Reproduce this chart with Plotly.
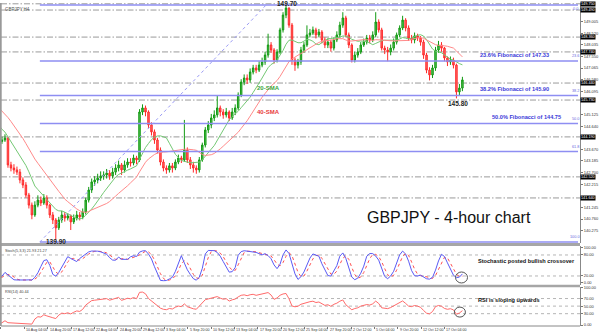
import numpy as np
import pandas as pd
import plotly.graph_objects as go

# ---------------- data (each bar ~ two 4h bars) ----------------
prior_open = 146.55
prior_closes = [146.50, 146.38, 146.30, 146.18, 146.28, 146.10, 146.02, 145.92, 145.95, 145.80,
                145.50, 145.30, 145.05, 144.92, 144.62, 144.50, 144.30, 144.22, 144.10, 144.00]
prior_highs = [146.65, 146.60, 146.45, 146.35, 146.40, 146.35, 146.20, 146.10, 146.10, 146.00,
               145.85, 145.60, 145.40, 145.15, 145.00, 144.70, 144.60, 144.40, 144.30, 144.15]
prior_lows = [146.30, 146.25, 146.15, 146.05, 146.10, 145.95, 145.85, 145.75, 145.80, 145.65,
              145.40, 145.15, 144.90, 144.75, 144.50, 144.35, 144.15, 144.05, 143.95, 143.85]

closes = [144.06, 144.14, 143.02, 142.89, 142.81, 142.72, 142.39, 142.18, 141.76, 141.34,
          140.93, 141.34, 141.55, 141.43, 141.64, 141.34, 140.93, 140.72, 140.39, 140.72,
          140.93, 140.80, 140.89, 140.64, 140.80, 140.93, 140.85, 141.05, 141.55, 141.97,
          142.31, 142.39, 142.47, 142.56, 142.60, 142.68, 142.56, 142.72, 142.89, 143.02,
          142.81, 143.02, 143.14, 143.10, 143.31, 143.23, 145.23, 145.40, 145.23, 144.69,
          144.40, 144.06, 143.64, 143.14, 142.89, 142.81, 142.98, 142.89, 143.14, 143.31,
          143.23, 143.64, 143.23, 143.02, 142.89, 142.81, 143.23, 143.85, 144.48, 144.69,
          144.98, 145.11, 145.40, 145.23, 145.11, 145.23, 144.98, 145.23, 145.40, 145.94,
          146.48, 146.65, 146.57, 146.90, 147.07, 146.98, 147.19, 147.32, 147.61, 148.03,
          147.82, 147.40, 147.74, 148.66, 149.28, 149.57, 148.86, 147.40, 147.19, 147.32,
          147.82, 148.03, 148.45, 148.53, 148.66, 148.45, 148.57, 148.24, 148.03, 148.15,
          147.90, 148.24, 148.45, 148.86, 149.16, 148.45, 148.03, 147.40, 147.61, 147.74,
          148.03, 148.15, 148.32, 148.24, 148.45, 148.99, 148.66, 147.90, 147.82, 147.74,
          147.90, 148.15, 148.45, 148.74, 149.07, 148.74, 148.32, 148.24, 148.41, 148.32,
          148.15, 147.61, 146.98, 146.78, 147.07, 147.82, 148.03, 147.90, 147.49, 147.32,
          147.40, 147.19, 146.07, 146.23, 146.57]
highs = [144.20, 144.30, 144.20, 143.15, 143.05, 142.95, 142.85, 142.50, 142.30, 141.85,
         141.45, 141.50, 141.75, 141.70, 141.80, 141.75, 141.40, 141.05, 140.80, 140.85,
         141.10, 141.05, 141.00, 140.95, 140.95, 141.10, 141.05, 141.20, 141.65, 142.10,
         142.45, 142.55, 142.65, 142.75, 142.75, 142.85, 142.80, 142.90, 143.05, 143.20,
         143.10, 143.20, 143.30, 143.30, 143.45, 143.40, 145.35, 145.55, 145.50, 145.30,
         144.80, 144.50, 144.15, 143.75, 143.25, 143.00, 143.10, 143.10, 143.25, 143.45,
         143.40, 144.90, 143.75, 143.35, 143.15, 143.00, 143.35, 143.95, 144.60, 144.85,
         145.15, 145.30, 145.90, 145.50, 145.35, 145.40, 145.30, 145.40, 145.55, 146.05,
         146.60, 146.80, 146.80, 147.05, 147.20, 147.20, 147.35, 147.50, 147.75, 148.50,
         148.15, 147.90, 147.85, 148.75, 149.40, 149.70, 149.60, 148.95, 147.50, 147.45,
         147.95, 148.15, 148.85, 148.70, 148.80, 148.75, 148.70, 148.65, 148.35, 148.30,
         148.25, 148.35, 148.60, 149.00, 149.40, 149.25, 148.55, 148.10, 147.75, 147.90,
         148.15, 148.30, 148.45, 148.45, 148.60, 149.40, 149.10, 148.75, 148.00, 147.95,
         148.05, 148.30, 148.55, 148.85, 149.25, 149.15, 148.85, 148.45, 148.55, 148.50,
         148.40, 148.25, 147.70, 147.10, 147.20, 147.95, 148.20, 148.15, 147.95, 147.55,
         147.55, 147.50, 147.25, 146.40, 146.70]
lows = [143.90, 143.98, 142.90, 142.75, 142.65, 142.60, 142.25, 142.05, 141.65, 141.20,
        140.75, 140.85, 141.25, 141.30, 141.35, 141.20, 140.80, 140.55, 139.88, 140.30,
        140.60, 140.65, 140.70, 140.30, 140.55, 140.70, 140.70, 140.75, 140.95, 141.45,
        141.85, 142.15, 142.25, 142.35, 142.40, 142.45, 142.40, 142.45, 142.60, 142.75,
        142.60, 142.70, 142.90, 142.95, 143.00, 143.05, 143.15, 145.10, 145.05, 144.55,
        144.25, 143.90, 143.50, 143.00, 142.75, 142.65, 142.70, 142.70, 142.80, 143.05,
        143.10, 143.15, 143.10, 142.85, 142.70, 142.65, 142.70, 143.15, 143.75, 144.35,
        144.55, 144.85, 145.00, 145.05, 144.95, 145.00, 144.85, 144.90, 145.10, 145.30,
        145.85, 146.35, 146.40, 146.45, 146.80, 146.85, 146.90, 147.10, 147.20, 147.50,
        147.70, 147.25, 147.30, 147.65, 148.55, 149.15, 148.75, 147.20, 146.95, 147.05,
        147.20, 147.70, 147.95, 148.35, 148.45, 148.30, 148.35, 148.10, 147.90, 147.90,
        147.75, 147.80, 148.15, 148.35, 148.75, 148.35, 147.90, 147.30, 147.30, 147.50,
        147.65, 147.95, 148.05, 148.10, 148.15, 148.35, 148.55, 147.80, 147.65, 147.35,
        147.60, 147.80, 148.05, 148.35, 148.65, 148.60, 148.20, 148.10, 148.10, 148.20,
        148.00, 147.45, 146.85, 146.55, 146.65, 146.95, 147.70, 147.75, 147.35, 147.15,
        147.20, 147.05, 145.80, 145.90, 146.10]

sr_levels = [149.75, 149.49, 148.36, 147.74, 146.44, 145.73, 144.19, 142.52, 141.64]
fib_high = 149.70
fib_low = 139.80
fib_pcts = [0.0, 23.6, 38.2, 50.0, 61.8, 100.0]
fib_texts = ["23.6% Fibonacci of 147.33", "38.2% Fibonacci of 145.90", "50.0% Fibonacci of 144.75"]
fib_text_pcts = [23.6, 38.2, 50.0]
price_ticks = [149.005, 148.520, 148.035, 147.550, 147.065, 146.580, 146.095, 145.125,
               144.640, 143.670, 143.185, 142.700, 142.215, 141.245, 140.760, 140.275]
date_labels = ["7 Aug 2018", "10 Aug 04:00", "14 Aug 20:00", "17 Aug 12:00", "22 Aug 04:00",
               "24 Aug 20:00", "29 Aug 12:00", "3 Sep 04:00", "5 Sep 20:00", "10 Sep 12:00",
               "13 Sep 04:00", "17 Sep 20:00", "20 Sep 12:00", "25 Sep 04:00", "27 Sep 20:00",
               "2 Oct 12:00", "5 Oct 04:00", "9 Oct 20:00", "12 Oct 12:00", "17 Oct 04:00"]

# ---------------- derived series ----------------
all_c = prior_closes + closes
all_h = prior_highs + highs
all_l = prior_lows + lows
all_o = [prior_open] + all_c[:-1]
n_prior = len(prior_closes)
xs = list(range(-n_prior, len(closes)))

c = pd.Series(all_c)
h = pd.Series(all_h)
l = pd.Series(all_l)
sma20 = c.rolling(10).mean()   # 20 x 4h bars
sma40 = c.rolling(20).mean()   # 40 x 4h bars

ll = l.rolling(5).min()
hh = h.rolling(5).max()
num = (c - ll).rolling(3).sum()
den = (hh - ll).rolling(3).sum()
stoch_k = 100 * num / den
stoch_d = stoch_k.rolling(3).mean()

delta = c.diff()
up = delta.clip(lower=0).ewm(alpha=1 / 11, adjust=False).mean()
dn = (-delta.clip(upper=0)).ewm(alpha=1 / 11, adjust=False).mean()
rsi = 100 - 100 / (1 + up / dn)

FONT = "Liberation Sans, Arial, sans-serif"
XR = [-0.33, 193.33]

fig = go.Figure()
fig.add_trace(go.Candlestick(
    x=xs, open=all_o, high=all_h, low=all_l, close=all_c,
    increasing=dict(line=dict(color="#129a12", width=1), fillcolor="#5cc25c"),
    decreasing=dict(line=dict(color="#ff2a2a", width=1), fillcolor="#ff7070"),
    whiskerwidth=0, showlegend=False, xaxis="x", yaxis="y"))
fig.add_trace(go.Scatter(x=xs, y=sma20, mode="lines", line=dict(color="#74c874", width=1),
                         showlegend=False, xaxis="x", yaxis="y", hoverinfo="skip"))
fig.add_trace(go.Scatter(x=xs, y=sma40, mode="lines", line=dict(color="#ff8a8a", width=1),
                         showlegend=False, xaxis="x", yaxis="y", hoverinfo="skip"))
fig.add_trace(go.Scatter(x=xs, y=stoch_d, mode="lines", line=dict(color="#ff5050", width=1, dash="dot"),
                         showlegend=False, xaxis="x2", yaxis="y2"))
fig.add_trace(go.Scatter(x=xs, y=stoch_k, mode="lines", line=dict(color="#5a5af5", width=1),
                         showlegend=False, xaxis="x2", yaxis="y2"))
fig.add_trace(go.Scatter(x=xs, y=rsi, mode="lines", line=dict(color="#ff6a6a", width=1),
                         showlegend=False, xaxis="x3", yaxis="y3"))

# domains (paper): plot area y from 3px to 326px
main_dom = [0.257, 1.0]
stoch_dom = [0.127, 0.2477]
rsi_dom = [0.0, 0.1207]

tickfont = dict(size=4, color="#333333", family=FONT)
axis_common = dict(showgrid=False, zeroline=False, fixedrange=True)
fig.update_layout(
    width=600, height=335, margin=dict(l=1, r=18, t=3, b=9),
    paper_bgcolor="white", plot_bgcolor="white", font=dict(family=FONT),
    xaxis=dict(domain=[0, 1], range=XR, anchor="y", showticklabels=False, rangeslider=dict(visible=False), **axis_common),
    xaxis2=dict(domain=[0, 1], range=XR, anchor="y2", matches="x", showticklabels=False, **axis_common),
    xaxis3=dict(domain=[0, 1], range=XR, anchor="y3", matches="x", showticklabels=False,
                ticks="outside", ticklen=2, tickcolor="#777",
                tickvals=[(1 + 23.42 * k - 2) / 3 for k in range(len(date_labels))], **axis_common),
    yaxis=dict(domain=main_dom, range=[139.758, 149.784], side="right", tickvals=price_ticks,
               ticktext=[f"{v:.3f}" for v in price_ticks], tickfont=tickfont, ticks="outside", ticklen=2,
               tickcolor="#777", showline=True, linecolor="#888", linewidth=1, **axis_common),
    yaxis2=dict(domain=stoch_dom, range=[-5.7, 105.7], side="right", tickvals=[0, 20, 80, 100],
                ticktext=["0.00", "20.00", "80.00", "100.00"], tickfont=tickfont, ticks="outside", ticklen=2,
                tickcolor="#777", showline=True, linecolor="#888", linewidth=1, anchor="x2", **axis_common),
    yaxis3=dict(domain=rsi_dom, range=[-2.6, 100.5], side="right", tickvals=[0, 30, 50, 70, 100],
                ticktext=["0.00", "30.00", "50.00", "70.00", "100.00"], tickfont=tickfont, ticks="outside",
                ticklen=2, tickcolor="#777", showline=True, linecolor="#888", linewidth=1, anchor="x3", **axis_common),
)

shapes = []
# support/resistance dash-dot lines
for lv in sr_levels:
    shapes.append(dict(type="line", xref="x", yref="y", x0=XR[0], x1=XR[1], y0=lv, y1=lv,
                       line=dict(color="#9a9a9a", width=1, dash="6px,2px,1.5px,2px"), layer="below"))
# fibonacci
fib_x0 = (40 - 2) / 3
fib_x1 = (580 - 2) / 3
for p in fib_pcts:
    lv = fib_high - (fib_high - fib_low) * p / 100
    shapes.append(dict(type="line", xref="x", yref="y", x0=fib_x0, x1=fib_x1, y0=lv, y1=lv,
                       line=dict(color="#8e8ef2", width=1.4)))
shapes.append(dict(type="line", xref="x", yref="y", x0=fib_x0, x1=(267 - 2) / 3, y0=fib_low, y1=fib_high,
                   line=dict(color="#9a9af4", width=1, dash="dot")))
# oscillator levels
for lv in [20, 80]:
    shapes.append(dict(type="line", xref="x2", yref="y2", x0=XR[0], x1=XR[1], y0=lv, y1=lv,
                       line=dict(color="#b5b5b5", width=1, dash="dot"), layer="below"))
for lv in [30, 50, 70]:
    shapes.append(dict(type="line", xref="x3", yref="y3", x0=XR[0], x1=XR[1], y0=lv, y1=lv,
                       line=dict(color="#b5b5b5", width=1, dash="dot"), layer="below"))
# panel separators and borders
for yy, w in [(0.2525, 3), (0.124, 2.5)]:
    shapes.append(dict(type="line", xref="paper", yref="paper", x0=0, x1=1, y0=yy, y1=yy,
                       line=dict(color="#a6a6a6", width=w)))
shapes.append(dict(type="line", xref="paper", yref="paper", x0=0, x1=1, y0=0, y1=0,
                   line=dict(color="#888", width=1)))
shapes.append(dict(type="line", xref="paper", yref="paper", x0=-0.0005, x1=-0.0005, y0=0, y1=1,
                   line=dict(color="#999", width=2)))
# circles
shapes.append(dict(type="circle", xref="x2", yref="y2", x0=151.7, x1=155.7, y0=0, y1=31.4,
                   line=dict(color="#555", width=1)))
shapes.append(dict(type="circle", xref="x3", yref="y3", x0=151.3, x1=155.0, y0=21, y1=47.4,
                   line=dict(color="#555", width=1)))
fig.update_layout(shapes=shapes)

ann = []
def A(text, x, y, xref="x", yref="y", size=6, color="#111", xanchor="center", yanchor="middle", weight="normal", **kw):
    ann.append(dict(text=text, x=x, y=y, xref=xref, yref=yref, showarrow=False, xanchor=xanchor,
                    yanchor=yanchor, font=dict(size=size, color=color, family=FONT, weight=weight), **kw))

A("GBPJPY,H4", 0.004, 0.993, xref="paper", yref="paper", size=4.5, color="#555", xanchor="left", yanchor="top")
A("149.70", (288 - 2) / 3, 149.78, size=6.5, color="#222", weight="bold")
A("145.80", (460 - 2) / 3, 145.60, size=6.5, color="#222", weight="bold")
A("139.90", (56 - 2) / 3, 139.80, size=6.5, color="#222", weight="bold")
A("20-SMA", (269 - 2) / 3, 146.23, size=6, color="#3aa53a", weight="bold")
A("40-SMA", (269 - 2) / 3, 145.23, size=6, color="#e83a3a", weight="bold")
fib_text_xend = [553, 553, 565]
for t, p, xe in zip(fib_texts, fib_text_pcts, fib_text_xend):
    lv = fib_high - (fib_high - fib_low) * p / 100
    A(t, (xe - 2) / 3, lv + 0.06, size=5.6, color="#3a3ad8", xanchor="right", yanchor="bottom", weight="bold")
for p in fib_pcts:
    lv = fib_high - (fib_high - fib_low) * p / 100
    if p == 0.0:
        A(f"{p:.1f}", (577 - 2) / 3, lv - 0.02, size=3.8, color="#6a6ae0", yanchor="top")
    else:
        A(f"{p:.1f}", (577 - 2) / 3, lv + 0.03, size=3.8, color="#6a6ae0", yanchor="bottom")
for lv in sr_levels:
    A(f"{lv:.3f}", 1.0, lv, xref="paper", size=3.8, color="white", xanchor="left", bgcolor="#000", borderpad=0)
A("GBPJPY - 4-hour chart", (366 - 2) / 3, 140.84, size=16, color="#111", xanchor="left")
A("Stoch(5,3,3) 21.93 21.27", 0.004, 0.246, xref="paper", yref="paper", size=3.8, color="#444", xanchor="left", yanchor="top")
A("RSI(14) 40.44", 0.004, 0.119, xref="paper", yref="paper", size=3.8, color="#444", xanchor="left", yanchor="top")
A("Stochastic posted bullish crossover", (478 - 2) / 3, 62, xref="x2", yref="y2", size=5.6, color="#111", xanchor="left", weight="bold")
A("RSI is sloping upwards", (478 - 2) / 3, 66, xref="x3", yref="y3", size=5.6, color="#111", xanchor="left", weight="bold")
for k, lab in enumerate(date_labels):
    A(lab, (1 + 23.42 * k - 2) / 3, -0.013, yref="paper", xref="x", size=3.6, color="#333", xanchor="left")
fig.update_layout(annotations=ann)

fig.write_html("out.html")
